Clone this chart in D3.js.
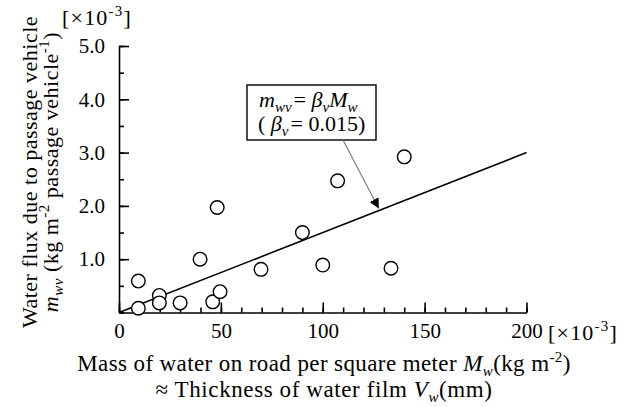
<!DOCTYPE html>
<html>
<head>
<meta charset="utf-8">
<script src="https://cdn.jsdelivr.net/npm/d3@7"></script>
<style>
  body { margin: 0; background: #fff; }
  svg { font-family: 'Liberation Serif', 'Times New Roman', serif; }
  .axis path, .axis line { stroke: #000; stroke-width: 1.6; }
  .axis text { font-family: 'Liberation Serif', serif; font-size: 21px; fill: #000; }
</style>
</head>
<body>
<svg id="chart" width="635" height="407"></svg>
<script>
// measured points, both axes in units of 10^-3
const massW = [9.5, 9.5, 19.8, 19.8, 30, 39.8, 46, 49.6, 48.2, 69.7, 90, 100, 107.3, 133.5, 140];
const fluxWv = [0.59, 0.08, 0.32, 0.18, 0.18, 1.0, 0.2, 0.39, 1.97, 0.81, 1.5, 0.89, 2.47, 0.83, 2.92];
const xTicks = [0, 50, 100, 150, 200];
const yTicks = [1, 2, 3, 4, 5];
const betaV = 0.015;
const fitRange = [0, 200];

const svg = d3.select('#chart');

const x = d3.scaleLinear().domain([0, 200]).range([119, 526.5]);
const y = d3.scaleLinear().domain([0, 5]).range([312.5, 46]);

// minor ticks first
svg.append('g')
  .attr('class', 'axis')
  .attr('transform', `translate(0,${y(0)})`)
  .call(d3.axisBottom(x).tickValues(d3.range(0, 201, 10)).tickSize(-5).tickSizeOuter(0).tickFormat(''));

svg.append('g')
  .attr('class', 'axis')
  .attr('transform', `translate(${x(0)},0)`)
  .call(d3.axisLeft(y).tickValues(d3.range(0, 5.01, 0.5)).tickSize(-5).tickSizeOuter(0).tickFormat(''));

// major ticks + labels
svg.append('g')
  .attr('class', 'axis')
  .attr('transform', `translate(0,${y(0)})`)
  .call(d3.axisBottom(x).tickValues(xTicks).tickSize(-10).tickSizeOuter(0).tickPadding(11))
  .call(g => g.select('.domain').remove());

svg.append('g')
  .attr('class', 'axis')
  .attr('transform', `translate(${x(0)},0)`)
  .call(d3.axisLeft(y).tickValues(yTicks).tickSize(-10).tickSizeOuter(0).tickPadding(14)
    .tickFormat(d3.format('.1f')))
  .call(g => g.select('.domain').remove());

// fitted line m_wv = beta_v * M_w
svg.append('line')
  .attr('x1', x(fitRange[0])).attr('y1', y(betaV * fitRange[0]))
  .attr('x2', x(fitRange[1])).attr('y2', y(betaV * fitRange[1]))
  .attr('stroke', '#000')
  .attr('stroke-width', 1.6);

svg.append('g')
  .selectAll('circle')
  .data(massW)
  .join('circle')
  .attr('cx', d => x(d))
  .attr('cy', (d, i) => y(fluxWv[i]))
  .attr('r', 6.8)
  .attr('fill', '#fff')
  .attr('stroke', '#000')
  .attr('stroke-width', 1.4);

// unit labels
function unitLabel(px, py) {
  const t = svg.append('text')
    .attr('x', px).attr('y', py)
    .attr('font-size', 22)
    .attr('letter-spacing', 1.2);
  t.append('tspan').text('[×10');
  t.append('tspan').attr('dy', -9).attr('font-size', 15).text('-3');
  t.append('tspan').attr('dy', 9).text(']');
}
unitLabel(62, 25);
unitLabel(548, 340);

// annotation box
svg.append('rect')
  .attr('x', 247).attr('y', 85)
  .attr('width', 129).attr('height', 55)
  .attr('fill', '#fff')
  .attr('stroke', '#000')
  .attr('stroke-width', 1.4);

const eq1 = svg.append('text').attr('x', 259).attr('y', 107).attr('font-size', 22);
eq1.append('tspan').attr('font-style', 'italic').text('m');
eq1.append('tspan').attr('font-style', 'italic').attr('font-size', 15).attr('dy', 5).text('wv');
eq1.append('tspan').attr('dy', -5).attr('dx', 2).text('= ');
eq1.append('tspan').attr('font-style', 'italic').text('β');
eq1.append('tspan').attr('font-style', 'italic').attr('font-size', 15).attr('dy', 5).text('v');
eq1.append('tspan').attr('font-style', 'italic').attr('dy', -5).text('M');
eq1.append('tspan').attr('font-style', 'italic').attr('font-size', 15).attr('dy', 5).text('w');

const eq2 = svg.append('text').attr('x', 258).attr('y', 131).attr('font-size', 22);
eq2.append('tspan').text('( ');
eq2.append('tspan').attr('font-style', 'italic').text('β');
eq2.append('tspan').attr('font-style', 'italic').attr('font-size', 15).attr('dy', 5).text('v');
eq2.append('tspan').attr('dy', -5).attr('dx', 2).text('= ' + betaV + ')');

// arrow from box to the line
svg.append('defs').append('marker')
  .attr('id', 'head')
  .attr('viewBox', '0 0 10 10')
  .attr('refX', 10).attr('refY', 5)
  .attr('markerWidth', 10).attr('markerHeight', 10)
  .attr('markerUnits', 'userSpaceOnUse')
  .attr('orient', 'auto')
  .append('path')
  .attr('d', 'M0,0 L10,5 L0,10 z')
  .attr('fill', '#000');

const tipX = 127.5;
svg.append('line')
  .attr('x1', 343).attr('y1', 140)
  .attr('x2', x(tipX)).attr('y2', y(betaV * tipX) - 2)
  .attr('stroke', '#777')
  .attr('stroke-width', 1.1)
  .attr('marker-end', 'url(#head)');

// x axis title
const xl1 = svg.append('text').attr('x', 324).attr('y', 371)
  .attr('text-anchor', 'middle').attr('font-size', 23).attr('letter-spacing', 0.4);
xl1.append('tspan').text('Mass of water on road per square meter ');
xl1.append('tspan').attr('font-style', 'italic').text('M');
xl1.append('tspan').attr('font-style', 'italic').attr('font-size', 15).attr('dy', 5).text('w');
xl1.append('tspan').attr('dy', -5).text('(kg m');
xl1.append('tspan').attr('font-size', 15).attr('dy', -9).text('-2');
xl1.append('tspan').attr('dy', 9).text(')');

const xl2 = svg.append('text').attr('x', 324).attr('y', 397)
  .attr('text-anchor', 'middle').attr('font-size', 23).attr('letter-spacing', 0.6);
xl2.append('tspan').text('≈ Thickness of water film ');
xl2.append('tspan').attr('font-style', 'italic').text('V');
xl2.append('tspan').attr('font-style', 'italic').attr('font-size', 15).attr('dy', 5).text('w');
xl2.append('tspan').attr('dy', -5).text('(mm)');

// y axis title
const yl = svg.append('g').attr('transform', 'translate(37,172) rotate(-90)');
yl.append('text').attr('text-anchor', 'middle').attr('font-size', 22).attr('letter-spacing', 0.5)
  .text('Water flux due to passage vehicle');
const yl2 = yl.append('text').attr('y', 21).attr('text-anchor', 'middle')
  .attr('font-size', 22).attr('letter-spacing', 0.5);
yl2.append('tspan').attr('font-style', 'italic').text('m');
yl2.append('tspan').attr('font-style', 'italic').attr('font-size', 15).attr('dy', 5).text('wv');
yl2.append('tspan').attr('dy', -5).text(' (kg m');
yl2.append('tspan').attr('font-size', 15).attr('dy', -9).text('-2');
yl2.append('tspan').attr('dy', 9).text(' passage vehicle');
yl2.append('tspan').attr('font-size', 15).attr('dy', -9).text('-1');
yl2.append('tspan').attr('dy', 9).text(')');
</script>
</body>
</html>
